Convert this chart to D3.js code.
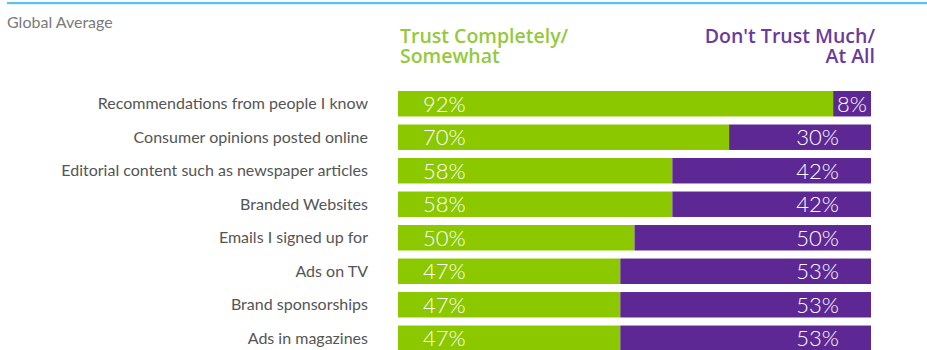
<!DOCTYPE html>
<html>
<head>
<meta charset="utf-8">
<script src="https://cdn.jsdelivr.net/npm/d3@7"></script>
<style>
  html, body { margin: 0; padding: 0; background: #fff; }
  svg { display: block; }
</style>
</head>
<body>
<svg id="chart" width="927" height="350"></svg>
<script>
// Trust in advertising sources, global average (%)
const categories = [
  "Recommendations from people I know",
  "Consumer opinions posted online",
  "Editorial content such as newspaper articles",
  "Branded Websites",
  "Emails I signed up for",
  "Ads on TV",
  "Brand sponsorships",
  "Ads in magazines"
];
const trustValues = [92, 70, 58, 58, 50, 47, 47, 47];
const distrustValues = [8, 30, 42, 42, 50, 53, 53, 53];
const seriesNames = ["Trust Completely/\nSomewhat", "Don't Trust Much/\nAt All"];
const subtitle = "Global Average";

const green = "#8cc800";
const purple = "#5e2894";
const font = "Lato, 'Open Sans', sans-serif";

const svg = d3.select("#chart");

const x = d3.scaleLinear().domain([0, 100]).range([398, 871]);
const y = d3.scaleBand().domain(categories).range([91, 351]).paddingInner(0.24).paddingOuter(0);

// top rule
svg.append("rect").attr("x", 7).attr("y", 2).attr("width", 920).attr("height", 2.2).attr("fill", "#55c4f2");

svg.append("text").attr("x", 7).attr("y", 28)
  .attr("font-family", font).attr("font-size", 16).attr("fill", "#7a7a7a")
  .text(subtitle);

// series headers, two lines each
const headers = [
  { lines: seriesNames[0].split("\n"), x: x(0) + 2, anchor: "start", color: "#95c93d" },
  { lines: seriesNames[1].split("\n"), x: x(100) + 4, anchor: "end", color: "#6a3b9c" }
];
headers.forEach(h => {
  h.lines.forEach((l, i) => svg.append("text")
    .attr("font-family", "'Open Sans', sans-serif").attr("font-size", 19.5)
    .attr("font-weight", 600).attr("fill", h.color).attr("text-anchor", h.anchor)
    .attr("x", h.x).attr("y", 43 + i * 20).text(l));
});

const rows = svg.append("g").selectAll("g").data(categories).join("g")
  .attr("transform", d => `translate(0,${y(d)})`);

rows.append("text")
  .attr("x", 368).attr("y", y.bandwidth() / 2).attr("dy", "0.35em")
  .attr("text-anchor", "end").attr("font-family", font).attr("font-size", 16)
  .attr("fill", "#555").text(d => d);

rows.append("rect")
  .attr("x", x(0)).attr("y", 0)
  .attr("width", (d, i) => x(trustValues[i]) - x(0)).attr("height", y.bandwidth())
  .attr("fill", green);

rows.append("rect")
  .attr("x", (d, i) => x(trustValues[i])).attr("y", 0)
  .attr("width", (d, i) => x(trustValues[i] + distrustValues[i]) - x(trustValues[i]))
  .attr("height", y.bandwidth())
  .attr("fill", purple);

rows.append("text")
  .attr("x", x(0) + 25).attr("y", y.bandwidth() / 2).attr("dy", "0.36em")
  .attr("font-family", font).attr("font-size", 22).attr("font-weight", 300)
  .attr("fill", "#fff").text((d, i) => trustValues[i] + "%");

rows.append("text")
  .attr("x", (d, i) => {
    const end = x(trustValues[i] + distrustValues[i]);
    return (end - x(trustValues[i]) < 60) ? end - 4 : end - 32;
  })
  .attr("y", y.bandwidth() / 2).attr("dy", "0.36em")
  .attr("text-anchor", "end")
  .attr("font-family", font).attr("font-size", 22).attr("font-weight", 300)
  .attr("fill", "#fff").text((d, i) => distrustValues[i] + "%");
</script>
</body>
</html>
